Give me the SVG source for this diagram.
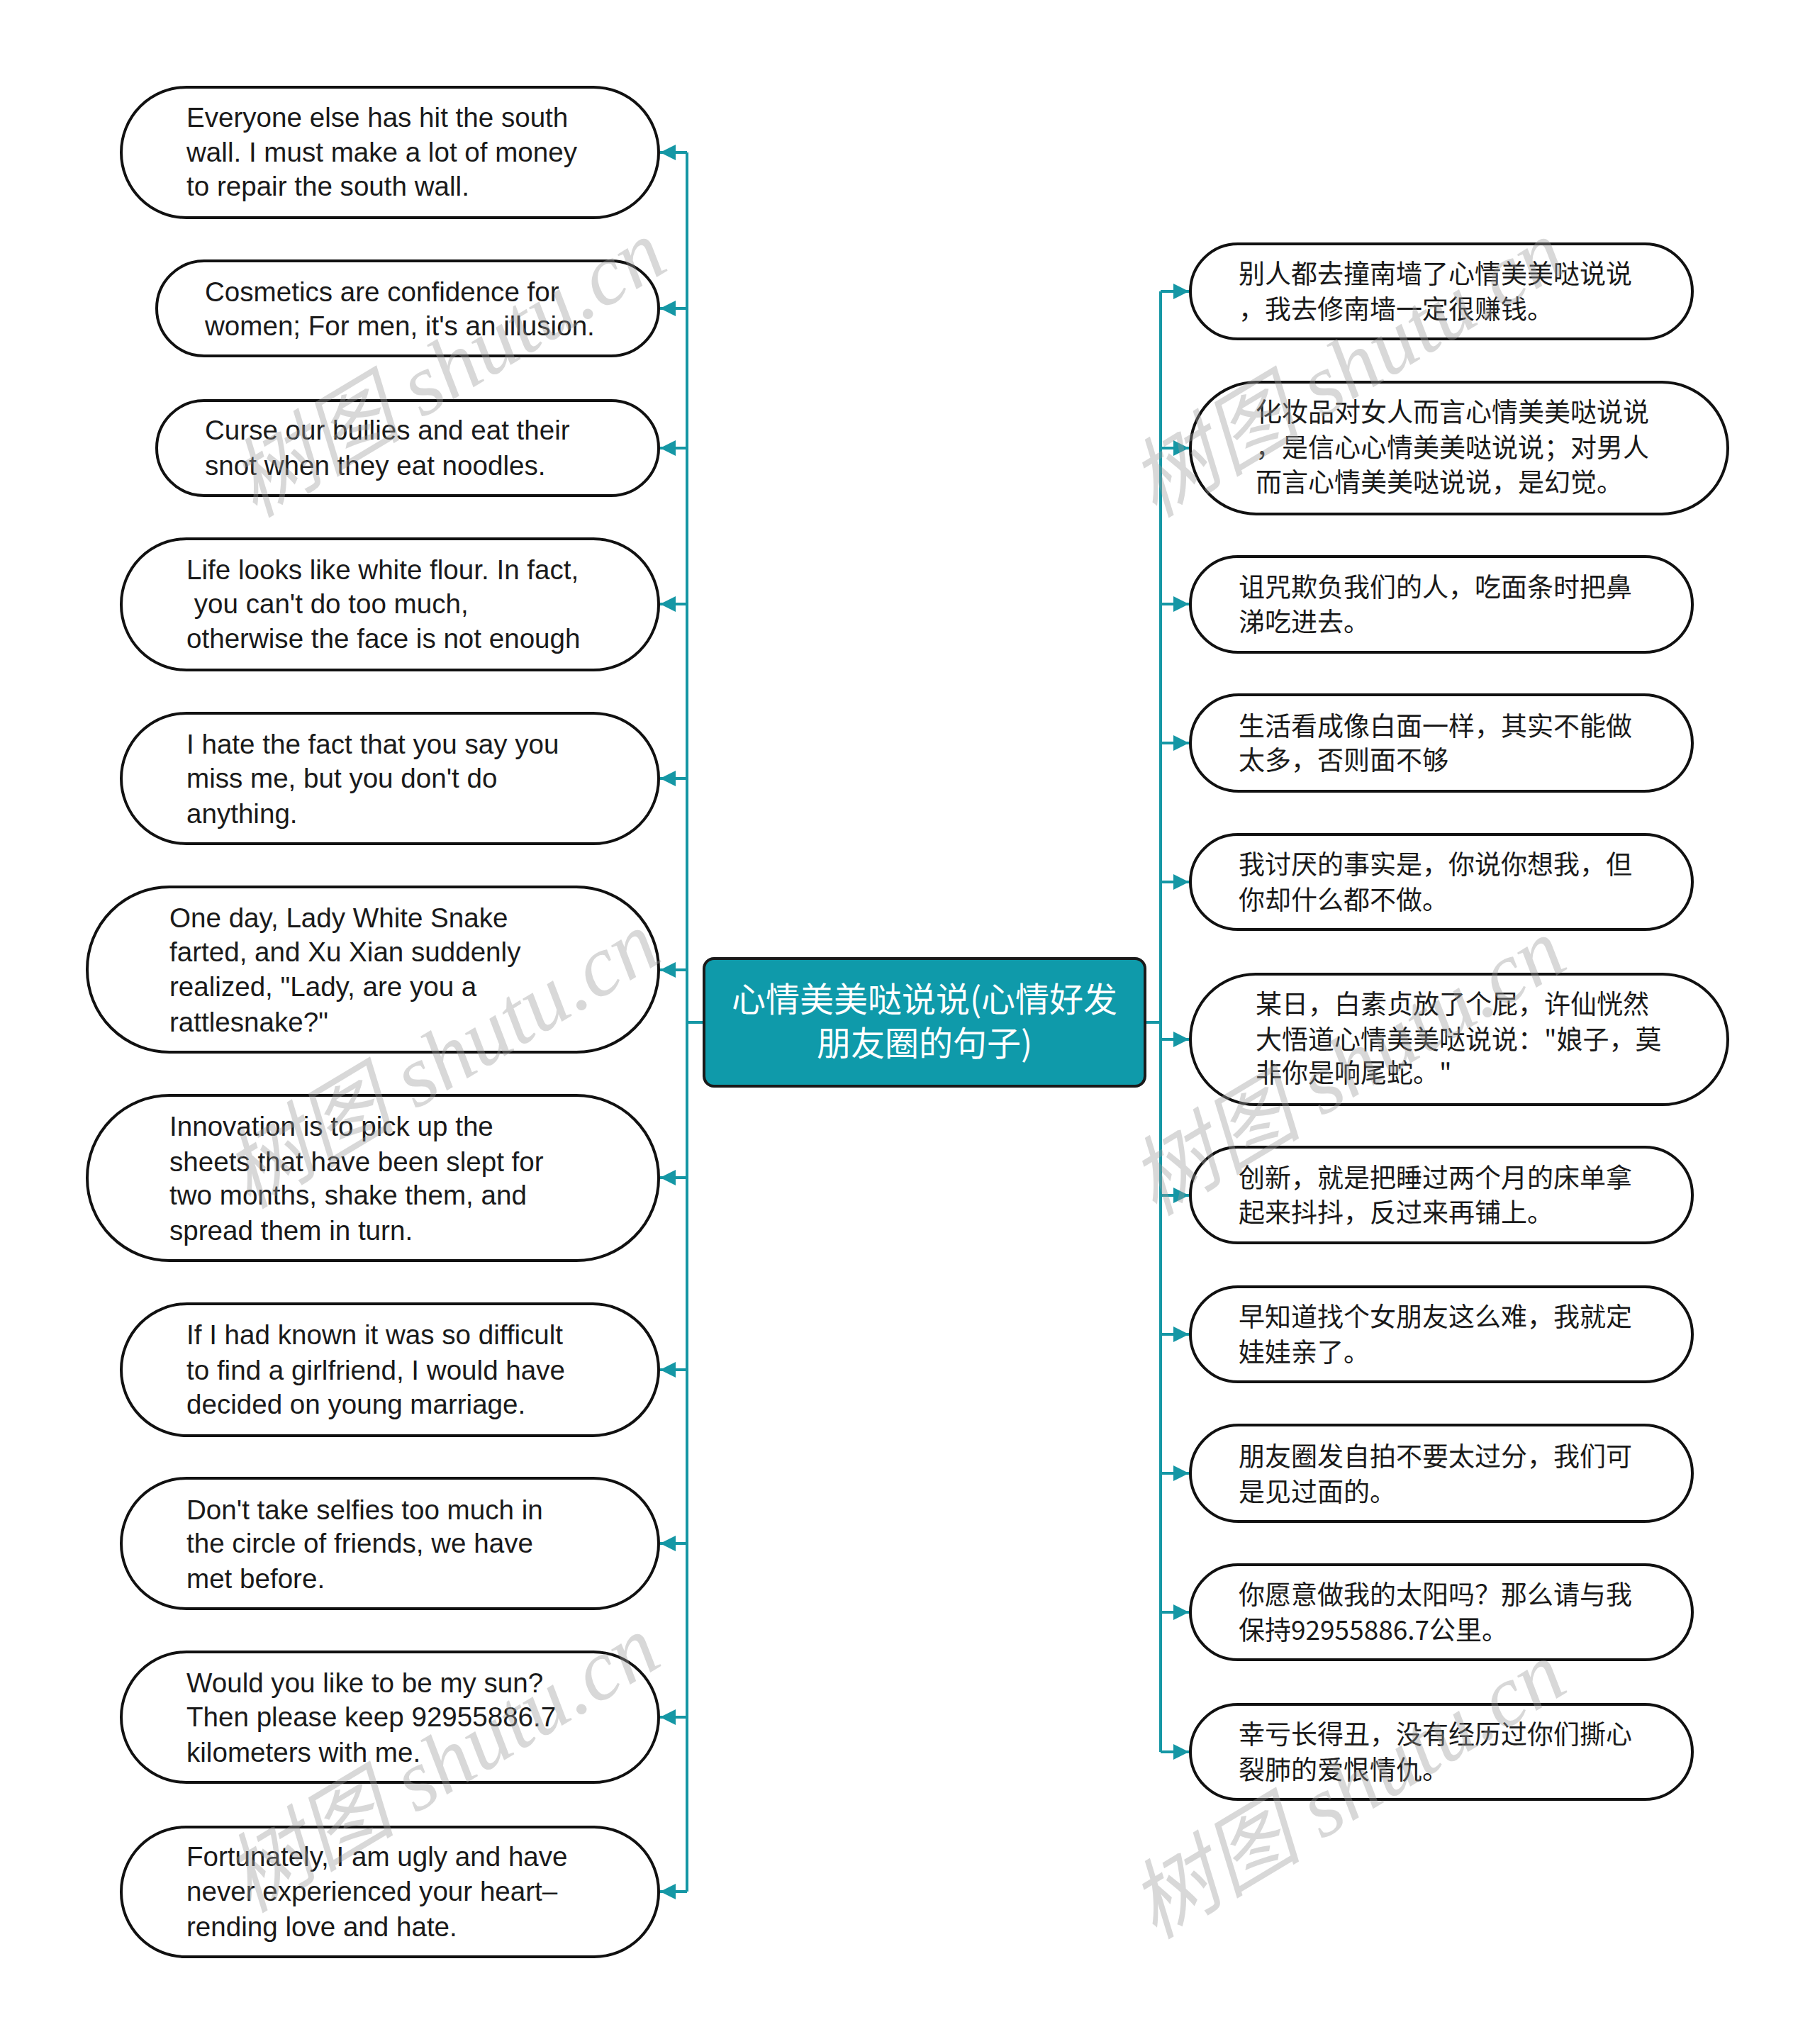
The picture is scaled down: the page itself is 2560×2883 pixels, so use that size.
<svg xmlns="http://www.w3.org/2000/svg" width="2560" height="2883" viewBox="0 0 2560 2883">
<defs>
<style>
.node{fill:#ffffff;stroke:#111111;stroke-width:4}
.center{fill:#0f9aaa;stroke:#1a1a1a;stroke-width:4}
.en{font-family:"Liberation Sans",Arial,sans-serif;font-size:38.6px;fill:#1a1a1a}
.zh{font-family:"Noto Sans CJK SC","Noto Sans",sans-serif;font-size:37px;fill:#1a1a1a}
.title{font-family:"Noto Sans CJK SC","Noto Sans",sans-serif;font-size:48px;fill:#ffffff;text-anchor:middle}
.conn{fill:none;stroke:#1597a5;stroke-width:4}
.wm{font-family:"Liberation Serif","Noto Sans CJK SC",serif;font-style:italic;font-size:122px;fill:#9a9a9a;opacity:0.38}
</style>
<marker id="arr" markerUnits="userSpaceOnUse" markerWidth="24" markerHeight="22" refX="22" refY="11" orient="auto">
<path d="M0,0 L22,11 L0,22 Z" fill="#1597a5"/>
</marker>
</defs>
<rect width="2560" height="2883" fill="#ffffff"/>

<g id="connectors">
<path class="conn" d="M993,1442 H969"/>
<path class="conn" d="M969,215 V2668"/>
<path class="conn" d="M969,215 H931" marker-end="url(#arr)"/>
<path class="conn" d="M969,435 H931" marker-end="url(#arr)"/>
<path class="conn" d="M969,632 H931" marker-end="url(#arr)"/>
<path class="conn" d="M969,852 H931" marker-end="url(#arr)"/>
<path class="conn" d="M969,1098 H931" marker-end="url(#arr)"/>
<path class="conn" d="M969,1368 H931" marker-end="url(#arr)"/>
<path class="conn" d="M969,1661 H931" marker-end="url(#arr)"/>
<path class="conn" d="M969,1932 H931" marker-end="url(#arr)"/>
<path class="conn" d="M969,2177 H931" marker-end="url(#arr)"/>
<path class="conn" d="M969,2422 H931" marker-end="url(#arr)"/>
<path class="conn" d="M969,2668 H931" marker-end="url(#arr)"/>
<path class="conn" d="M1615,1442 H1637"/>
<path class="conn" d="M1637,411 V2471"/>
<path class="conn" d="M1637,411 H1677" marker-end="url(#arr)"/>
<path class="conn" d="M1637,632 H1677" marker-end="url(#arr)"/>
<path class="conn" d="M1637,852 H1677" marker-end="url(#arr)"/>
<path class="conn" d="M1637,1048 H1677" marker-end="url(#arr)"/>
<path class="conn" d="M1637,1244 H1677" marker-end="url(#arr)"/>
<path class="conn" d="M1637,1466 H1677" marker-end="url(#arr)"/>
<path class="conn" d="M1637,1686 H1677" marker-end="url(#arr)"/>
<path class="conn" d="M1637,1882 H1677" marker-end="url(#arr)"/>
<path class="conn" d="M1637,2078 H1677" marker-end="url(#arr)"/>
<path class="conn" d="M1637,2274 H1677" marker-end="url(#arr)"/>
<path class="conn" d="M1637,2471 H1677" marker-end="url(#arr)"/>
</g>

<g id="center">
<rect class="center" x="993" y="1352" width="622" height="180" rx="14"/>
<text class="title" x="1304" y="1427">心情美美哒说说(心情好发</text>
<text class="title" x="1304" y="1489">朋友圈的句子)</text>
</g>

<g id="l1"><rect class="node" x="171" y="123" width="758" height="184" rx="92"/>
<text class="en" x="263" y="179">Everyone else has hit the south</text>
<text class="en" x="263" y="228">wall. I must make a lot of money</text>
<text class="en" x="263" y="276">to repair the south wall.</text></g>

<g id="l2"><rect class="node" x="221" y="368" width="708" height="134" rx="67"/>
<text class="en" x="289" y="425">Cosmetics are confidence for</text>
<text class="en" x="289" y="473">women; For men, it's an illusion.</text></g>

<g id="l3"><rect class="node" x="221" y="565" width="708" height="134" rx="67"/>
<text class="en" x="289" y="620">Curse our bullies and eat their</text>
<text class="en" x="289" y="670">snot when they eat noodles.</text></g>

<g id="l4"><rect class="node" x="171" y="760" width="758" height="185" rx="92"/>
<text class="en" x="263" y="817">Life looks like white flour. In fact,</text>
<text class="en" x="263" y="865" xml:space="preserve"> you can't do too much,</text>
<text class="en" x="263" y="914">otherwise the face is not enough</text></g>

<g id="l5"><rect class="node" x="171" y="1006" width="758" height="184" rx="92"/>
<text class="en" x="263" y="1063">I hate the fact that you say you</text>
<text class="en" x="263" y="1111">miss me, but you don't do</text>
<text class="en" x="263" y="1161">anything.</text></g>

<g id="l6"><rect class="node" x="123" y="1251" width="806" height="233" rx="116"/>
<text class="en" x="239" y="1308">One day, Lady White Snake</text>
<text class="en" x="239" y="1356">farted, and Xu Xian suddenly</text>
<text class="en" x="239" y="1405">realized, "Lady, are you a</text>
<text class="en" x="239" y="1455">rattlesnake?"</text></g>

<g id="l7"><rect class="node" x="123" y="1545" width="806" height="233" rx="116"/>
<text class="en" x="239" y="1602">Innovation is to pick up the</text>
<text class="en" x="239" y="1652">sheets that have been slept for</text>
<text class="en" x="239" y="1699">two months, shake them, and</text>
<text class="en" x="239" y="1749">spread them in turn.</text></g>

<g id="l8"><rect class="node" x="171" y="1839" width="758" height="186" rx="93"/>
<text class="en" x="263" y="1896">If I had known it was so difficult</text>
<text class="en" x="263" y="1946">to find a girlfriend, I would have</text>
<text class="en" x="263" y="1994">decided on young marriage.</text></g>

<g id="l9"><rect class="node" x="171" y="2085" width="758" height="184" rx="92"/>
<text class="en" x="263" y="2143">Don't take selfies too much in</text>
<text class="en" x="263" y="2190">the circle of friends, we have</text>
<text class="en" x="263" y="2240">met before.</text></g>

<g id="l10"><rect class="node" x="171" y="2330" width="758" height="184" rx="92"/>
<text class="en" x="263" y="2387">Would you like to be my sun?</text>
<text class="en" x="263" y="2435">Then please keep 92955886.7</text>
<text class="en" x="263" y="2485">kilometers with me.</text></g>

<g id="l11"><rect class="node" x="171" y="2577" width="758" height="183" rx="91"/>
<text class="en" x="263" y="2632">Fortunately, I am ugly and have</text>
<text class="en" x="263" y="2681">never experienced your heart–</text>
<text class="en" x="263" y="2731">rending love and hate.</text></g>

<g id="r1"><rect class="node" x="1679" y="344" width="708" height="134" rx="67"/>
<text class="zh" x="1747" y="400">别人都去撞南墙了心情美美哒说说</text>
<text class="zh" x="1747" y="450">，我去修南墙一定很赚钱。</text></g>

<g id="r2"><rect class="node" x="1679" y="539" width="758" height="186" rx="93"/>
<text class="zh" x="1771" y="595">化妆品对女人而言心情美美哒说说</text>
<text class="zh" x="1771" y="645">，是信心心情美美哒说说；对男人</text>
<text class="zh" x="1771" y="694">而言心情美美哒说说，是幻觉。</text></g>

<g id="r3"><rect class="node" x="1679" y="785" width="708" height="135" rx="67"/>
<text class="zh" x="1747" y="842">诅咒欺负我们的人，吃面条时把鼻</text>
<text class="zh" x="1747" y="891">涕吃进去。</text></g>

<g id="r4"><rect class="node" x="1679" y="980" width="708" height="136" rx="68"/>
<text class="zh" x="1747" y="1038">生活看成像白面一样，其实不能做</text>
<text class="zh" x="1747" y="1086">太多，否则面不够</text></g>

<g id="r5"><rect class="node" x="1679" y="1177" width="708" height="134" rx="67"/>
<text class="zh" x="1747" y="1233">我讨厌的事实是，你说你想我，但</text>
<text class="zh" x="1747" y="1283">你却什么都不做。</text></g>

<g id="r6"><rect class="node" x="1679" y="1374" width="758" height="184" rx="92"/>
<text class="zh" x="1771" y="1430">某日，白素贞放了个屁，许仙恍然</text>
<text class="zh" x="1771" y="1480">大悟道心情美美哒说说："娘子，莫</text>
<text class="zh" x="1771" y="1527">非你是响尾蛇。"</text></g>

<g id="r7"><rect class="node" x="1679" y="1618" width="708" height="135" rx="67"/>
<text class="zh" x="1747" y="1675">创新，就是把睡过两个月的床单拿</text>
<text class="zh" x="1747" y="1724">起来抖抖，反过来再铺上。</text></g>

<g id="r8"><rect class="node" x="1679" y="1815" width="708" height="134" rx="67"/>
<text class="zh" x="1747" y="1871">早知道找个女朋友这么难，我就定</text>
<text class="zh" x="1747" y="1921">娃娃亲了。</text></g>

<g id="r9"><rect class="node" x="1679" y="2010" width="708" height="136" rx="68"/>
<text class="zh" x="1747" y="2068">朋友圈发自拍不要太过分，我们可</text>
<text class="zh" x="1747" y="2118">是见过面的。</text></g>

<g id="r10"><rect class="node" x="1679" y="2207" width="708" height="134" rx="67"/>
<text class="zh" x="1747" y="2263">你愿意做我的太阳吗？那么请与我</text>
<text class="zh" x="1747" y="2313">保持92955886.7公里。</text></g>

<g id="r11"><rect class="node" x="1679" y="2404" width="708" height="134" rx="67"/>
<text class="zh" x="1747" y="2460">幸亏长得丑，没有经历过你们撕心</text>
<text class="zh" x="1747" y="2510">裂肺的爱恨情仇。</text></g>

<g id="watermarks">
<text class="wm" text-anchor="middle" transform="translate(653,555) rotate(-31)">树图 shutu.cn</text>
<text class="wm" text-anchor="middle" transform="translate(1922,555) rotate(-31)">树图 shutu.cn</text>
<text class="wm" text-anchor="middle" transform="translate(644,1530) rotate(-31)">树图 shutu.cn</text>
<text class="wm" text-anchor="middle" transform="translate(1922,1540) rotate(-31)">树图 shutu.cn</text>
<text class="wm" text-anchor="middle" transform="translate(644,2523) rotate(-31)">树图 shutu.cn</text>
<text class="wm" text-anchor="middle" transform="translate(1922,2560) rotate(-31)">树图 shutu.cn</text>
</g>
</svg>
